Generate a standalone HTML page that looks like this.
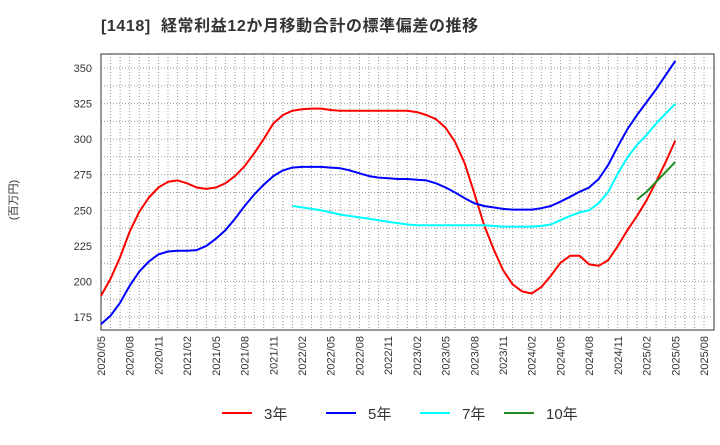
<!DOCTYPE html>
<html><head><meta charset="utf-8"><style>
body{margin:0;background:#fff;font-family:"Liberation Sans","Noto Sans CJK JP",sans-serif}
</style></head><body>
<svg width="720" height="440" xmlns="http://www.w3.org/2000/svg" font-family="Liberation Sans, Noto Sans CJK JP, sans-serif" id="chart">
<text x="101" y="31" font-size="16" letter-spacing="0.6" font-weight="bold" fill="#333" xml:space="preserve">[1418]  経常利益12か月移動合計の標準偏差の推移</text>
<text transform="translate(17,200) rotate(-90)" font-size="11" fill="#333" text-anchor="middle">(百万円)</text>
<g id="grid"></g><g id="axes"></g><g id="series"></g><g id="legend"></g>
</svg>
<script>
const xLabels=["2020/05","2020/08","2020/11","2021/02","2021/05","2021/08","2021/11","2022/02","2022/05","2022/08","2022/11","2023/02","2023/05","2023/08","2023/11","2024/02","2024/05","2024/08","2024/11","2025/02","2025/05","2025/08"];
const yTicks=[175,200,225,250,275,300,325,350];
const s3=[190,202,217,235,249,259,266,270,271,269,266,265,266,269,274,281,290,300,311,317,320,321,321.5,321.5,320.5,320,320,320,320,320,320,320,320,319,317,314,308,298,283,262,240,223,208,198,193,191.5,196,204,213,218,218,212,211,215,225,236,246,257,270,284,299];
const s5=[170,176,185,197,207,214,219,221,221.5,221.5,222,225,230,236,244,253,261,268,274,278,280,280.5,280.5,280.5,280,279.5,278,276,274,273,272.5,272,272,271.5,271,269,266,262.5,258.5,255,253,252,251,250.5,250.5,250.5,251.5,253,256,259.5,263,266,272,282,295,307,317,326,335,345,355];
const s7Start=20;
const s7=[253,252,251,250,248.5,247,246,245,244,243,242,241,240,239.5,239.5,239.5,239.5,239.5,239.5,239.5,239.5,239,238.5,238.5,238.5,238.5,239,240,243,246,248.5,250,255,263,276,287,296,303,311,318,325];
const s10Start=56;
const s10=[257.5,263,270,277,284];
const L=101,R=714,T=54,B=330;
const xm=i=>101+i*(704-101)/63;
const y=v=>68+(350-v)*(317-68)/175;
const NS="http://www.w3.org/2000/svg";
function mk(tag,attrs,parent){const e=document.createElementNS(NS,tag);for(const k in attrs)e.setAttribute(k,attrs[k]);document.getElementById(parent).appendChild(e);return e;}
for(let i=0;i<=63;i++){const l=mk('line',{x1:xm(i),x2:xm(i),y1:T,y2:B,stroke:'#999','stroke-dasharray':'1,2','stroke-width':1},'grid');

}
for(let v=175;v<=350;v+=12.5){const l=mk('line',{x1:L,x2:R,y1:y(v),y2:y(v),stroke:'#999','stroke-dasharray':'1,2','stroke-width':1},'grid');

}
const fr=mk('rect',{x:L,y:T,width:R-L,height:B-T,fill:'none',stroke:'#333','stroke-width':1},'axes');


yTicks.forEach(v=>{const t=mk('text',{x:92,y:y(v)+4,'font-size':11,fill:'#333','text-anchor':'end'},'axes');t.textContent=v;

});
xLabels.forEach((s,i)=>{const x=xm(i*3);const t=mk('text',{transform:`translate(${x+4},336) rotate(-90)`,'font-size':11,fill:'#333','text-anchor':'end'},'axes');t.textContent=s;

});
function line(data,start,color,name){const pts=data.map((v,i)=>xm(start+i).toFixed(1)+','+y(v).toFixed(1)).join(' ');
const p=mk('polyline',{points:pts,fill:'none',stroke:color,'stroke-width':2,'stroke-linejoin':'round'},'series');

}
line(s3,0,'#ff0000','series-3y');
line(s5,0,'#0000ff','series-5y');
line(s7,s7Start,'#00ffff','series-7y');
line(s10,s10Start,'#228b22','series-10y');
const leg=[['3年','#ff0000',222],['5年','#0000ff',326],['7年','#00ffff',420],['10年','#228b22',504]];
leg.forEach(([n,c,x])=>{const l=mk('line',{x1:x,x2:x+30,y1:413,y2:413,stroke:c,'stroke-width':2},'legend');


const t=mk('text',{x:x+42,y:419,'font-size':15,fill:'#333'},'legend');t.textContent=n;

});
</script>
</body></html>
